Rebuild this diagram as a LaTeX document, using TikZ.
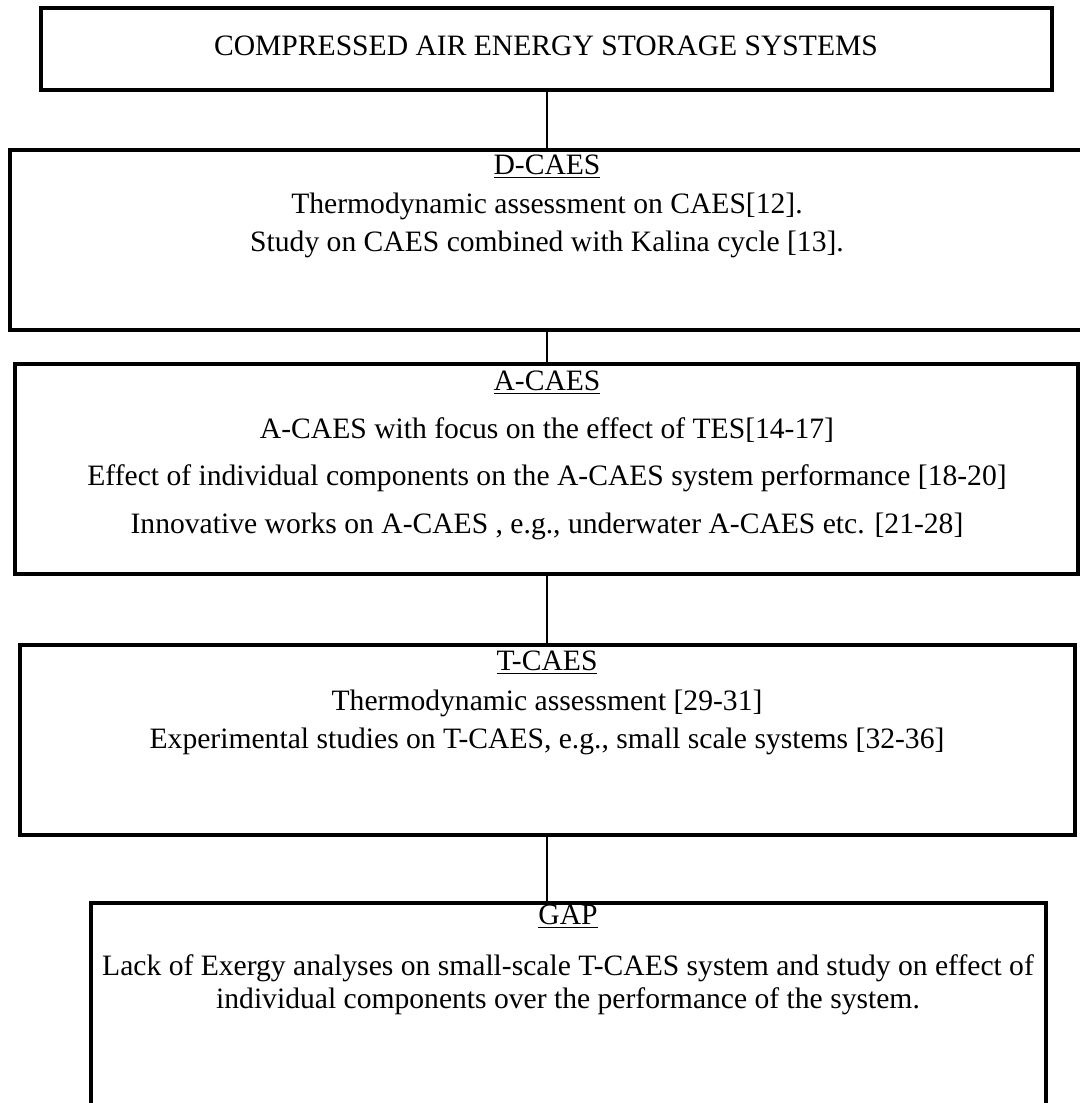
\documentclass[tikz,border=0pt]{standalone}
\usepackage{fontspec}
\setmainfont{Liberation Serif}
\usetikzlibrary{fit}

\begin{document}
\begin{tikzpicture}[x=0.5pt,y=-0.5pt,
  box/.style={draw,line width=1.8pt,inner sep=0pt},
  txt/.style={anchor=mid,inner sep=0pt,font=\fontsize{14.8}{17}\selectfont},
  link/.style={line width=1.2pt}]

  \useasboundingbox (0,0) rectangle (1080,1103);
  \clip (0,0) rectangle (1080,1103);

  % boxes
  \node[box,fit={(41,8) (1052,90)}] (caes) {};
  \node[box,fit={(10,150) (1090,330)}] (dcaes) {};
  \node[box,fit={(15,364) (1078,574)}] (acaes) {};
  \node[box,fit={(20,645) (1075,835)}] (tcaes) {};
  \node[box,fit={(91,903) (1046,1130)}] (gap) {};
  \coordinate (spine) at (547,0);

  % texts
  \node[txt] (caes-t) at (546,51) {COMPRESSED AIR ENERGY STORAGE SYSTEMS};

  \node[txt] (dcaes-h) at (547,170) {\underline{D-CAES}};
  \node[txt] (dcaes-1) at (547,209) {Thermodynamic assessment on CAES[12].};
  \node[txt] (dcaes-2) at (547,247) {Study on CAES combined with Kalina cycle [13].};

  \node[txt] (acaes-h) at (547,386) {\underline{A-CAES}};
  \node[txt] (acaes-1) at (547,434) {A-CAES with focus on the effect of TES[14-17]};
  \node[txt] (acaes-2) at (547,481) {Effect of individual components on the A-CAES system performance [18-20]};
  \node[txt] (acaes-3) at (547,529) {Innovative works on A-CAES , e.g., underwater A-CAES etc. [21-28]};

  \node[txt] (tcaes-h) at (547,666) {\underline{T-CAES}};
  \node[txt] (tcaes-1) at (547,706) {Thermodynamic assessment [29-31]};
  \node[txt] (tcaes-2) at (547,744) {Experimental studies on T-CAES, e.g., small scale systems [32-36]};

  \node[txt] (gap-h) at (568,920) {\underline{GAP}};
  \node[txt] (gap-1) at (568,971) {Lack of Exergy analyses on small-scale T-CAES system and study on effect of};
  \node[txt] (gap-2) at (568,1004) {individual components over the performance of the system.};

  % links
  \draw[link] (caes.south -| spine) -- (dcaes.north -| spine);
  \draw[link] (dcaes.south -| spine) -- (acaes.north -| spine);
  \draw[link] (acaes.south -| spine) -- (tcaes.north -| spine);
  \draw[link] (tcaes.south -| spine) -- (gap.north -| spine);

\end{tikzpicture}
\end{document}
